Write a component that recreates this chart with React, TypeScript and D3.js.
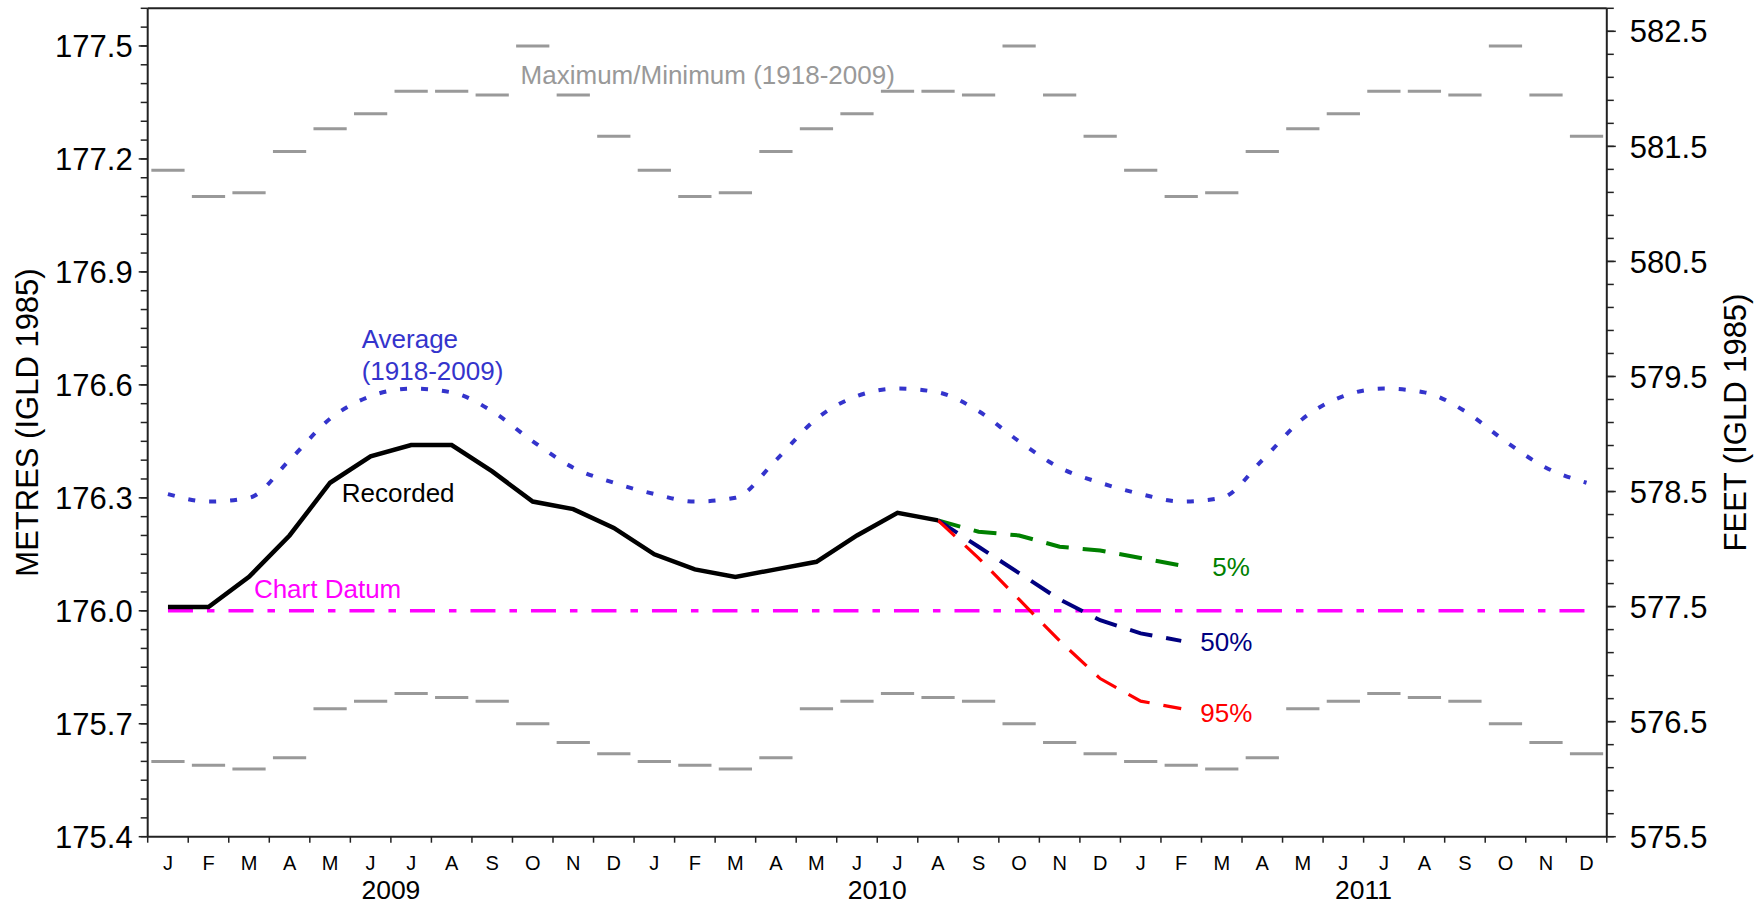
import * as d3 from 'd3';
import {useMemo} from 'react';

const WIDTH = 1764;
const HEIGHT = 906;
const PLOT = {left: 147.7, right: 1606.8, top: 8.3, bottom: 836.7};
const FONT = '"Liberation Sans", Arial, sans-serif';

const monthLetters = ['J', 'F', 'M', 'A', 'M', 'J', 'J', 'A', 'S', 'O', 'N', 'D'];
const years = [2009, 2010, 2011];

// monthly statistics 1918-2009 (metres, IGLD 1985)
const maxLevels = [177.17, 177.10, 177.11, 177.22, 177.28, 177.32, 177.38, 177.38, 177.37, 177.50, 177.37, 177.26];
const minLevels = [175.60, 175.59, 175.58, 175.61, 175.74, 175.76, 175.78, 175.77, 175.76, 175.70, 175.65, 175.62];
const avgLevels = [176.31, 176.29, 176.30, 176.40, 176.51, 176.57, 176.59, 176.58, 176.53, 176.45, 176.38, 176.34];

// Jan 2009 .. Aug 2010
const recorded = [
  176.01, 176.01, 176.09, 176.20, 176.34, 176.41, 176.44, 176.44, 176.37, 176.29, 176.27, 176.22,
  176.15, 176.11, 176.09, 176.11, 176.13, 176.20, 176.26, 176.24,
];

// Aug 2010 .. Feb 2011
const outlookStart = 19;
const outlook5 = [176.24, 176.21, 176.20, 176.17, 176.16, 176.14, 176.12];
const outlook50 = [176.24, 176.17, 176.10, 176.03, 175.975, 175.94, 175.92];
const outlook95 = [176.24, 176.14, 176.03, 175.92, 175.82, 175.76, 175.74];

const chartDatum = 176.0;

const metreTicks = [175.4, 175.7, 176.0, 176.3, 176.6, 176.9, 177.2, 177.5];
const feetTicks = [575.5, 576.5, 577.5, 578.5, 579.5, 580.5, 581.5, 582.5];

const AXIS = '#222';
const GREY = '#999999';
const AVG_BLUE = '#3434cc';

type Pt = [number, number];

function App() {
  const nMonths = years.length * 12;

  const x = useMemo(() => d3.scaleLinear().domain([0, nMonths]).range([PLOT.left, PLOT.right]), [nMonths]);
  const y = useMemo(() => d3.scaleLinear().domain([175.4, 177.6]).range([PLOT.bottom, PLOT.top]), []);
  const yFt = useMemo(() => d3.scaleLinear().domain([575.5, 582.7]).range([PLOT.bottom, PLOT.top]), []);

  const allMonths = d3.range(nMonths);
  const xc = (i: number) => x(i + 0.5);

  const line = d3.line<Pt>().x((d) => d[0]).y((d) => d[1]);
  const smooth = d3.line<Pt>().x((d) => d[0]).y((d) => d[1]).curve(d3.curveMonotoneX);

  const avgPath = smooth(allMonths.map((i) => [xc(i), y(avgLevels[i % 12])] as Pt));
  const recPath = line(recorded.map((v, i) => [xc(i), y(v)] as Pt));
  const datumPath = line(allMonths.map((i) => [xc(i), y(chartDatum)] as Pt));
  const outPath = (vals: number[]) => line(vals.map((v, i) => [xc(outlookStart + i), y(v)] as Pt));

  const minorM = d3.range(175.4, 177.6 + 1e-6, 0.05);
  const minorF = d3.range(575.5, 582.7 + 1e-6, 0.2);

  const lastOut = outlookStart + outlook5.length - 1;

  return (
    <svg width={WIDTH} height={HEIGHT} style={{position: 'absolute', left: 0, top: 0, background: '#fff'}} fontFamily={FONT}>
      {/* max / min dashes */}
      {allMonths.map((i) => (
        <g key={`mm${i}`} stroke={GREY} strokeWidth={3}>
          <line x1={x(i + 0.09)} x2={x(i + 0.91)} y1={y(maxLevels[i % 12])} y2={y(maxLevels[i % 12])} />
          <line x1={x(i + 0.09)} x2={x(i + 0.91)} y1={y(minLevels[i % 12])} y2={y(minLevels[i % 12])} />
        </g>
      ))}

      <path d={datumPath!} fill="none" stroke="#ff00ff" strokeWidth={3.5} strokeDasharray="25 14 7.5 14" />
      <path d={avgPath!} fill="none" stroke={AVG_BLUE} strokeWidth={4} strokeDasharray="7 14" />
      <path d={outPath(outlook5)!} fill="none" stroke="#008000" strokeWidth={4} strokeDasharray="23 14" />
      <path d={outPath(outlook50)!} fill="none" stroke="#000080" strokeWidth={4} strokeDasharray="23 14" />
      <path d={outPath(outlook95)!} fill="none" stroke="#ff0000" strokeWidth={3.2} strokeDasharray="23 14" />
      <path d={recPath!} fill="none" stroke="#000" strokeWidth={4.5} strokeLinejoin="miter" />

      {/* annotations */}
      <g fontSize={26}>
        <text x={x(9.2)} y={y(177.4)} fill={GREY}>Maximum/Minimum (1918-2009)</text>
        <text x={x(5.28)} y={y(176.697)} fill={AVG_BLUE}>Average</text>
        <text x={x(5.28)} y={y(176.612)} fill={AVG_BLUE}>(1918-2009)</text>
        <text x={x(4.79)} y={y(176.29)} fill="#000">Recorded</text>
        <text x={x(2.62)} y={y(176.033)} fill="#ff00ff">Chart Datum</text>
        <text x={xc(lastOut) + 31} y={y(outlook5[outlook5.length - 1]) + 10} fill="#008000">5%</text>
        <text x={xc(lastOut) + 19} y={y(outlook50[outlook50.length - 1]) + 10} fill="#000080">50%</text>
        <text x={xc(lastOut) + 19} y={y(outlook95[outlook95.length - 1]) + 13} fill="#ff0000">95%</text>
      </g>

      {/* frame */}
      <g stroke={AXIS} strokeWidth={2} fill="none">
        <line x1={PLOT.left} x2={PLOT.right} y1={PLOT.top} y2={PLOT.top} />
        <line x1={PLOT.left} x2={PLOT.right} y1={PLOT.bottom} y2={PLOT.bottom} />
        <line x1={PLOT.left} x2={PLOT.left} y1={PLOT.top} y2={PLOT.bottom} />
        <line x1={PLOT.right} x2={PLOT.right} y1={PLOT.top} y2={PLOT.bottom} />
      </g>

      {/* left axis */}
      <g stroke={AXIS} strokeWidth={1.5}>
        {minorM.map((v, i) => (
          <line key={`lm${i}`} x1={PLOT.left - 7} x2={PLOT.left} y1={y(v)} y2={y(v)} />
        ))}
        {metreTicks.map((v) => (
          <line key={`lM${v}`} x1={PLOT.left - 9} x2={PLOT.left} y1={y(v)} y2={y(v)} />
        ))}
      </g>
      <g fontSize={31} textAnchor="end" fill="#000">
        {metreTicks.map((v) => (
          <text key={`lt${v}`} x={PLOT.left - 15} y={y(v)} dy="0.36em">{v.toFixed(1)}</text>
        ))}
      </g>
      <text transform={`translate(38,${(PLOT.top + PLOT.bottom) / 2}) rotate(-90)`} textAnchor="middle" fontSize={31}>
        METRES (IGLD 1985)
      </text>

      {/* right axis */}
      <g stroke={AXIS} strokeWidth={1.5}>
        {minorF.map((v, i) => (
          <line key={`rm${i}`} x1={PLOT.right} x2={PLOT.right + 7} y1={yFt(v)} y2={yFt(v)} />
        ))}
        {feetTicks.map((v) => (
          <line key={`rM${v}`} x1={PLOT.right} x2={PLOT.right + 9} y1={yFt(v)} y2={yFt(v)} />
        ))}
      </g>
      <g fontSize={31} textAnchor="start" fill="#000">
        {feetTicks.map((v) => (
          <text key={`rt${v}`} x={PLOT.right + 23} y={yFt(v)} dy="0.36em">{v.toFixed(1)}</text>
        ))}
      </g>
      <text transform={`translate(1746,${(PLOT.top + PLOT.bottom) / 2}) rotate(-90)`} textAnchor="middle" fontSize={31}>
        FEET (IGLD 1985)
      </text>

      {/* bottom axis */}
      <g stroke={AXIS} strokeWidth={1.5}>
        {d3.range(nMonths + 1).map((i) => (
          <line key={`bt${i}`} x1={x(i)} x2={x(i)} y1={PLOT.bottom} y2={PLOT.bottom + 6} />
        ))}
      </g>
      <g fontSize={20} textAnchor="middle" fill="#000">
        {allMonths.map((i) => (
          <text key={`ml${i}`} x={xc(i)} y={PLOT.bottom + 33}>{monthLetters[i % 12]}</text>
        ))}
      </g>
      <g fontSize={26.5} textAnchor="middle" fill="#000">
        {years.map((yr, k) => (
          <text key={yr} x={x(k * 12 + 6)} y={PLOT.bottom + 62}>{yr}</text>
        ))}
      </g>
    </svg>
  );
}

export default App;
